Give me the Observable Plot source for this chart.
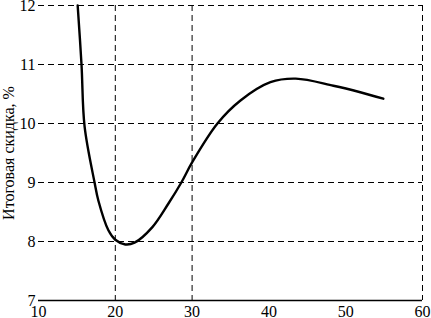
<!DOCTYPE html>
<html>
<head>
<meta charset="utf-8">
<script src="https://cdn.jsdelivr.net/npm/d3@7"></script>
<script src="https://cdn.jsdelivr.net/npm/@observablehq/plot@0.6"></script>
<style>
  html, body { margin: 0; padding: 0; background: #fff; }
  html body #chart svg text, html body #chart svg g { font-family: "Times New Roman", serif !important; }
</style>
</head>
<body>
<div id="chart"></div>
<script>
const xs = [15.1, 15.6, 16.0, 17.3, 17.8, 19.1, 20.0, 21.3, 22.5, 24.8, 26.9, 28.6, 30.0, 33.3, 36.3, 40.2, 43.5, 48.4, 51.9, 54.9];
const ys = [12.0, 11.0, 9.95, 9.0, 8.69, 8.19, 8.03, 7.95, 7.98, 8.24, 8.64, 9.0, 9.34, 10.0, 10.39, 10.70, 10.76, 10.64, 10.53, 10.42];
const xTicks = [10, 20, 30, 40, 50, 60];
const yTicks = [7, 8, 9, 10, 11, 12];
const xGrid = [20, 30, 60];
const yGrid = [8, 9, 10, 11, 12];
const yLabel = "Итоговая скидка, %";

const data = xs.map((x, i) => ({x, y: ys[i]}));
const fam = "Times New Roman";

const chart = Plot.plot({
  width: 431,
  height: 318,
  marginLeft: 38,
  marginRight: 9,
  marginTop: 5,
  marginBottom: 18,
  style: "font-family: 'Times New Roman', serif; font-size: 15px; color: #000; background: #fff; overflow: visible;",
  x: {domain: [10, 60]},
  y: {domain: [7, 12]},
  marks: [
    Plot.ruleX(xGrid, {stroke: "#000", strokeWidth: 1, strokeDasharray: "6,4", strokeOpacity: 1}),
    Plot.ruleY(yGrid, {stroke: "#000", strokeWidth: 1, strokeDasharray: "6,4", strokeOpacity: 1}),
    Plot.ruleY([7], {stroke: "#000", strokeWidth: 1.5}),
    Plot.axisX({ticks: xTicks, tickSize: 0, tickPadding: 5, label: null, fontSize: 16, fontFamily: fam, tickFormat: d3.format("d")}),
    Plot.axisY({ticks: yTicks, tickSize: 0, tickPadding: 3, label: null, fontSize: 16, fontFamily: fam, tickFormat: d3.format("d")}),
    Plot.text([yLabel], {frameAnchor: "left", dx: -36, rotate: -90, fontSize: 16, fontFamily: fam, lineAnchor: "top", textAnchor: "middle", text: d => d}),
    Plot.line(data, {x: "x", y: "y", curve: "catmull-rom", stroke: "#000", strokeWidth: 2.4})
  ]
});
chart.setAttribute("font-family", fam);
document.getElementById("chart").appendChild(chart);

function applyFont() {
  const svgs = document.querySelectorAll("svg");
  svgs.forEach(s => {
    if (s.getAttribute("font-family") !== fam) s.setAttribute("font-family", fam);
    s.querySelectorAll("g, text, tspan").forEach(el => {
      if (el.tagName === "g" && !el.hasAttribute("font-family") && !el.querySelector("text")) return;
      if (el.getAttribute("font-family") !== fam) el.setAttribute("font-family", fam);
      if (el.style.getPropertyValue("font-family") !== "\"Times New Roman\", serif") {
        el.style.setProperty("font-family", "\"Times New Roman\", serif", "important");
      }
    });
  });
}
applyFont();
[0, 30, 100, 300, 800].forEach(t => setTimeout(applyFont, t));
requestAnimationFrame(applyFont);
</script>
</body>
</html>
